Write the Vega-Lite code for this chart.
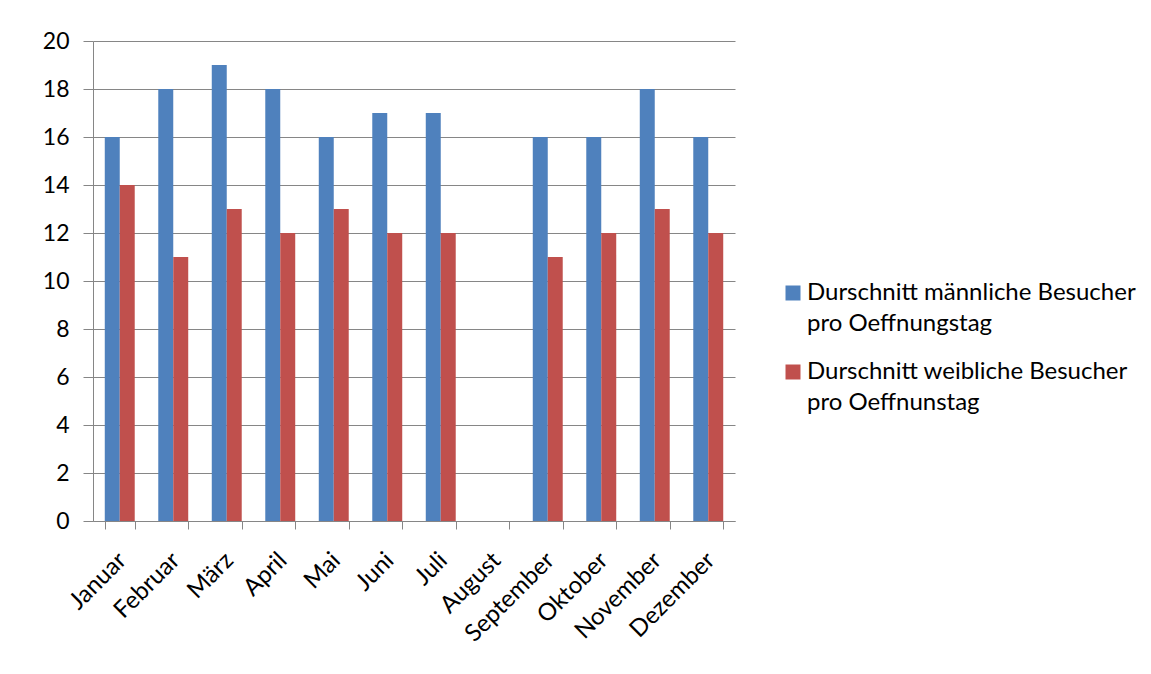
{
  "$schema": "https://vega.github.io/schema/vega-lite/v6.json",
  "width": 642,
  "height": 480,
  "autosize": {"type": "none"},
  "padding": {"left": 93, "top": 41, "right": 416, "bottom": 153},
  "background": "white",
  "data": {
    "values": [
      {"Monat": "Januar", "Serie": "m", "Wert": 16},
      {"Monat": "Januar", "Serie": "w", "Wert": 14},
      {"Monat": "Februar", "Serie": "m", "Wert": 18},
      {"Monat": "Februar", "Serie": "w", "Wert": 11},
      {"Monat": "März", "Serie": "m", "Wert": 19},
      {"Monat": "März", "Serie": "w", "Wert": 13},
      {"Monat": "April", "Serie": "m", "Wert": 18},
      {"Monat": "April", "Serie": "w", "Wert": 12},
      {"Monat": "Mai", "Serie": "m", "Wert": 16},
      {"Monat": "Mai", "Serie": "w", "Wert": 13},
      {"Monat": "Juni", "Serie": "m", "Wert": 17},
      {"Monat": "Juni", "Serie": "w", "Wert": 12},
      {"Monat": "Juli", "Serie": "m", "Wert": 17},
      {"Monat": "Juli", "Serie": "w", "Wert": 12},
      {"Monat": "September", "Serie": "m", "Wert": 16},
      {"Monat": "September", "Serie": "w", "Wert": 11},
      {"Monat": "Oktober", "Serie": "m", "Wert": 16},
      {"Monat": "Oktober", "Serie": "w", "Wert": 12},
      {"Monat": "November", "Serie": "m", "Wert": 18},
      {"Monat": "November", "Serie": "w", "Wert": 13},
      {"Monat": "Dezember", "Serie": "m", "Wert": 16},
      {"Monat": "Dezember", "Serie": "w", "Wert": 12}
    ]
  },
  "mark": {"type": "bar"},
  "encoding": {
    "x": {
      "field": "Monat",
      "type": "nominal",
      "sort": null,
      "scale": {
        "domain": ["Januar", "Februar", "März", "April", "Mai", "Juni", "Juli", "August", "September", "Oktober", "November", "Dezember"],
        "paddingInner": 0.44,
        "paddingOuter": 0.22
      },
      "axis": {
        "title": null,
        "labelAngle": -45,
        "labelFont": "Lato",
        "labelFontSize": 24,
        "labelColor": "#000000",
        "labelPadding": 19,
        "labelOffset": -6,
        "tickBand": "extent",
        "tickSize": 8,
        "tickColor": "#868686",
        "domainColor": "#868686",
        "grid": false
      }
    },
    "xOffset": {
      "field": "Serie",
      "type": "nominal",
      "scale": {"domain": ["m", "w"], "paddingInner": 0, "paddingOuter": 0}
    },
    "y": {
      "field": "Wert",
      "type": "quantitative",
      "scale": {"domain": [0, 20]},
      "axis": {
        "title": null,
        "values": [0, 2, 4, 6, 8, 10, 12, 14, 16, 18, 20],
        "labelFont": "Lato",
        "labelFontSize": 23,
        "labelColor": "#000000",
        "labelPadding": 14,
        "tickSize": 10,
        "tickColor": "#868686",
        "domainColor": "#868686",
        "gridColor": "#868686",
        "gridOpacity": 1
      }
    },
    "color": {
      "field": "Serie",
      "type": "nominal",
      "scale": {"domain": ["m", "w"], "range": ["#4F81BD", "#C0504D"]},
      "legend": {
        "title": null,
        "orient": "none",
        "legendX": 688,
        "legendY": 240,
        "symbolType": "square",
        "symbolSize": 225,
        "symbolStrokeWidth": 0,
        "labelFont": "Lato",
        "labelFontSize": 24,
        "labelColor": "#000000",
        "labelOffset": 2,
        "labelLimit": 450,
        "rowPadding": 24,
        "encode": {"labels": {"update": {"lineHeight": {"value": 31}}}},
        "labelExpr": "datum.value == 'm' ? ['Durschnitt männliche Besucher', 'pro Oeffnungstag'] : ['Durschnitt weibliche Besucher', 'pro Oeffnunstag']"
      }
    }
  },
  "config": {"view": {"stroke": null}}
}
